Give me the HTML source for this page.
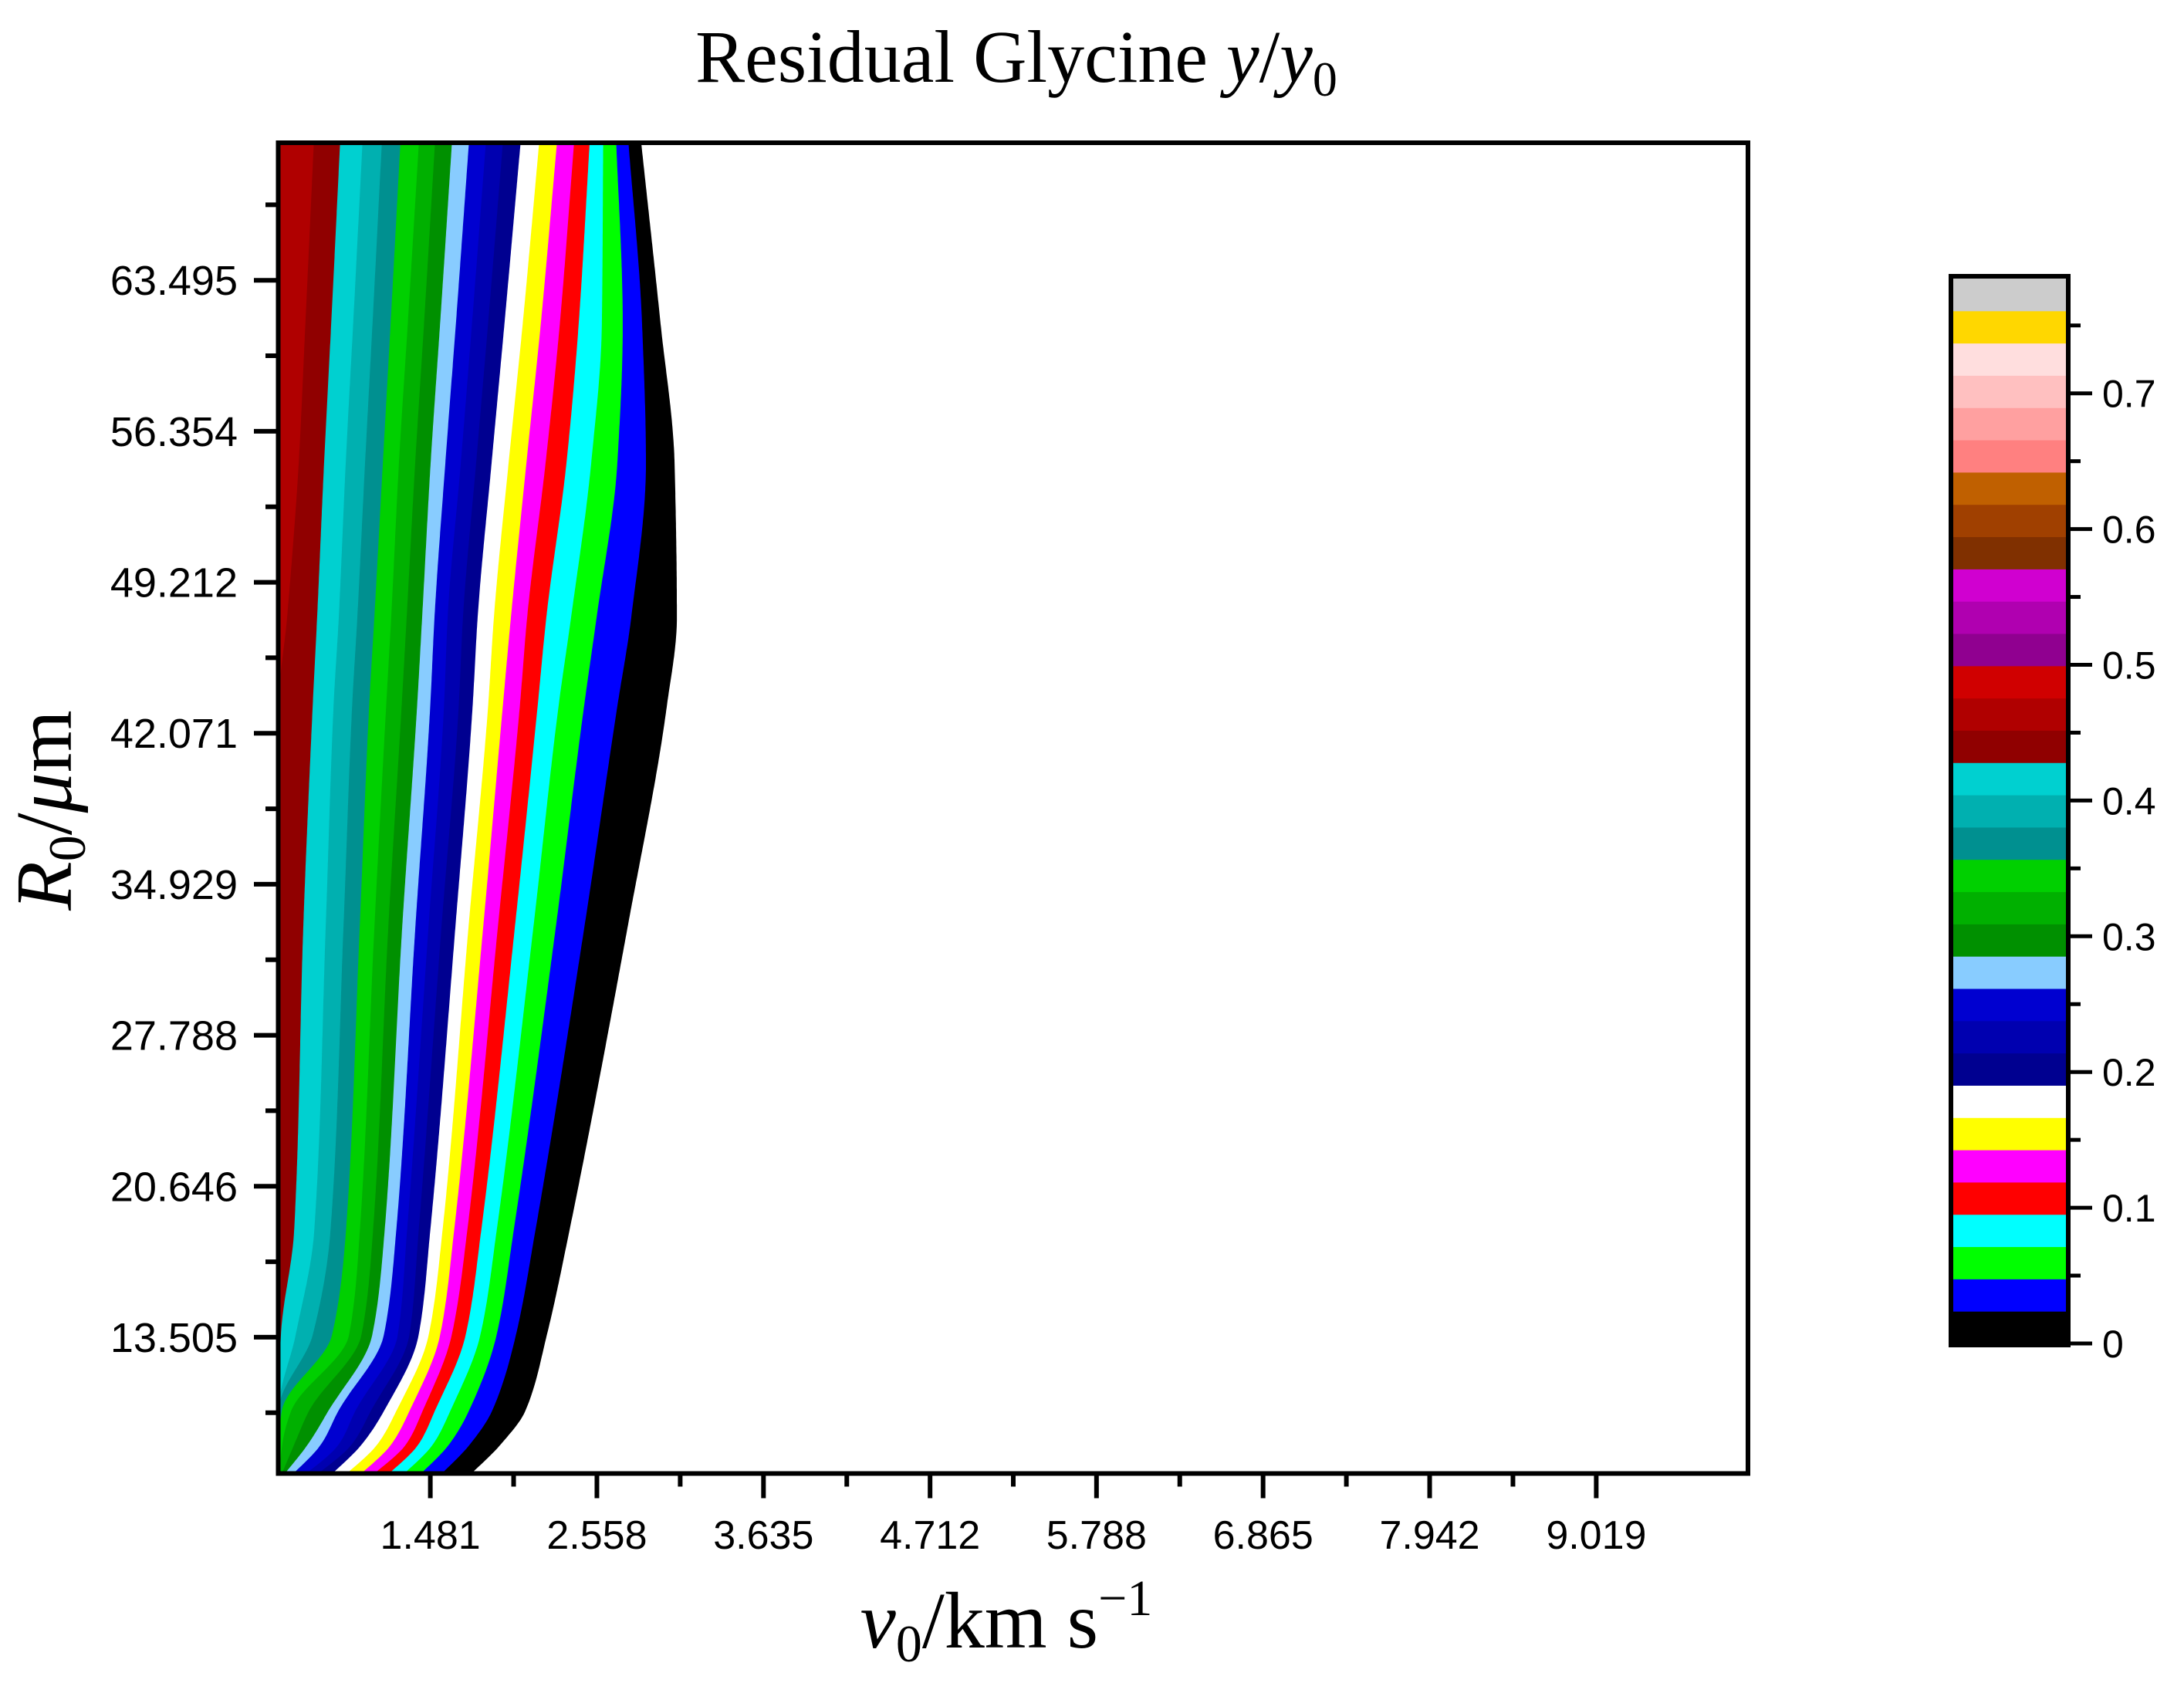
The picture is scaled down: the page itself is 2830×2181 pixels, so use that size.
<!DOCTYPE html>
<html><head><meta charset="utf-8"><style>
html,body{margin:0;padding:0;background:#fff;}
svg{display:block;}
</style></head><body>
<svg id="chart" xmlns="http://www.w3.org/2000/svg" width="2830" height="2181" viewBox="0 0 2830 2181">
<rect x="0" y="0" width="2830" height="2181" fill="#fff"/>
<defs><clipPath id="plotclip"><rect x="361" y="185" width="1904" height="1724.5"/></clipPath></defs>
<g id="contours" clip-path="url(#plotclip)"></g>
<g id="axes"></g>
<g id="cbar"></g>
<text x="1317" y="106" text-anchor="middle" font-family="Liberation Serif, serif" font-size="96">Residual Glycine <tspan font-style="italic">y</tspan>/<tspan font-style="italic">y</tspan><tspan font-size="64" dy="18">0</tspan></text>
<text transform="translate(92,1050) rotate(-90)" text-anchor="middle" font-family="Liberation Serif, serif" font-size="104"><tspan font-style="italic">R</tspan><tspan font-size="68" dy="18">0</tspan><tspan dy="-18">/</tspan><tspan font-style="italic">μ</tspan>m</text>
<text x="1304" y="2135" text-anchor="middle" font-family="Liberation Serif, serif" font-size="104"><tspan font-style="italic">v</tspan><tspan font-size="68" dy="18">0</tspan><tspan dy="-18">/km s</tspan><tspan font-size="66" dy="-42">−1</tspan></text>
</svg>
<script>
// ---- data ----
const rRows = [70, 61.42, 54.85, 47.55, 43.3, 33.0, 18.5, 13.6, 10.0, 8.5, 7.06];
const levels = [0,0.025,0.05,0.075,0.1,0.125,0.15,0.175,0.2,0.225,0.25,0.275,0.3,0.325,0.35,0.375,0.4,0.425,0.45,0.475];
const bandColors = ["#000000","#0000ff","#00ff00","#00ffff","#ff0000","#ff00ff","#ffff00","#ffffff","#000090","#0000b0","#0000d0","#88ccff","#009000","#00b000","#00d000","#009090","#00b0b0","#00d0d0","#900000","#b00000"];
// boundary v0 (km/s) for each level, one array per R0 row
const vAtR70  = [2.839,2.758,2.681,2.599,2.514,2.414,2.304,2.189,2.069,1.954,1.844,1.734,1.624,1.514,1.410,1.290,1.170,1.045,0.900,0.730];
const vAtR61  = [2.970,2.850,2.725,2.590,2.440,2.318,2.195,2.078,1.960,1.854,1.750,1.646,1.544,1.440,1.335,1.224,1.107,0.982,0.840,0.673];
const vAtR55  = [3.060,2.875,2.690,2.521,2.361,2.226,2.102,1.987,1.877,1.777,1.678,1.578,1.483,1.383,1.278,1.174,1.059,0.934,0.794,0.630];
const vAtR47  = [3.075,2.780,2.556,2.391,2.231,2.107,2.002,1.892,1.787,1.692,1.593,1.508,1.428,1.328,1.228,1.119,1.009,0.889,0.749,0.555];
const vAtR43  = [3.009,2.689,2.474,2.309,2.174,2.059,1.949,1.854,1.754,1.664,1.569,1.480,1.395,1.295,1.195,1.085,0.975,0.855,0.720,0.500];
const vAtR33  = [2.759,2.479,2.294,2.149,2.029,1.919,1.824,1.729,1.644,1.554,1.470,1.385,1.300,1.210,1.120,1.025,0.920,0.805,0.660,0.500];
const vAtR18  = [2.379,2.159,2.019,1.909,1.809,1.719,1.634,1.559,1.480,1.405,1.330,1.260,1.185,1.110,1.025,0.935,0.835,0.730,0.600,0.500];
const vAtR13  = [2.234,2.034,1.909,1.804,1.709,1.619,1.544,1.470,1.405,1.345,1.270,1.180,1.105,1.035,0.955,0.845,0.720,0.610,0.515,0.500];
const vAtR10  = [2.094,1.879,1.729,1.609,1.509,1.430,1.345,1.260,1.180,1.095,0.995,0.885,0.820,0.695,0.580,0.520,0.500,0.500,0.500,0.500];
const vAtR8   = [1.944,1.744,1.609,1.504,1.410,1.330,1.235,1.145,1.045,0.980,0.895,0.780,0.695,0.605,0.525,0.500,0.500,0.500,0.500,0.500];
const vAtR7   = [1.694,1.505,1.370,1.260,1.160,1.060,0.980,0.885,0.795,0.695,0.620,0.545,0.500,0.500,0.500,0.500,0.500,0.500,0.500,0.500];
const rowsV = [vAtR70, vAtR61, vAtR55, vAtR47, vAtR43, vAtR33, vAtR18, vAtR13, vAtR10, vAtR8, vAtR7];
const xTicks = [1.481,2.558,3.635,4.712,5.788,6.865,7.942,9.019];
const xMinorTicks = [2.0195,3.0965,4.1735,5.25,6.3265,7.4035,8.4805];
const yTicks = [13.505,20.646,27.788,34.929,42.071,49.212,56.354,63.495];
const yMinorTicks = [9.935,17.076,24.217,31.359,38.5,45.641,52.783,59.925,67.066];
const cbarColors = ["#000000","#0000ff","#00ff00","#00ffff","#ff0000","#ff00ff","#ffff00","#ffffff","#000090","#0000b0","#0000d0","#88ccff","#009000","#00b000","#00d000","#009090","#00b0b0","#00d0d0","#900000","#b00000","#d00000","#900090","#b000b0","#d000d0","#803000","#a04000","#c06000","#ff8080","#ffa0a0","#ffc0c0","#ffdede","#ffd700","#cccccc"];
const cbarTicks = [0,0.1,0.2,0.3,0.4,0.5,0.6,0.7];
const cbarTickLabels = ["0","0.1","0.2","0.3","0.4","0.5","0.6","0.7"];
const cbarMinorTicks = [0.05,0.15,0.25,0.35,0.45,0.55,0.65,0.75];

// ---- scales ----
const PL=361, PR=2265, PT=185, PB=1909.5;
const xMin=0.5, xMax=10.0, yMin=7.06, yMax=70;
function xPx(v){return PL+(v-xMin)*(PR-PL)/(xMax-xMin);}
function yPx(r){return PB-(r-yMin)*(PB-PT)/(yMax-yMin);}
const CB_BOT=1741, CB_PER=1759;
function cbY(v){return CB_BOT-v*CB_PER;}

const NS="http://www.w3.org/2000/svg";
function mk(tag, attrs, parent){const e=document.createElementNS(NS,tag);for(const k in attrs)e.setAttribute(k,attrs[k]);parent.appendChild(e);return e;}

// ---- contours: monotone (Fritsch-Carlson) cubic x(y) ----
const cg=document.getElementById('contours');
function monoPts(ys, xs){
  const n=ys.length, h=[], s=[], m=[];
  for(let i=0;i<n-1;i++){h.push(ys[i+1]-ys[i]); s.push((xs[i+1]-xs[i])/h[i]);}
  m[0]=s[0]; m[n-1]=s[n-2];
  for(let i=1;i<n-1;i++){
    if(s[i-1]*s[i]<=0){m[i]=0;}
    else{const w1=2*h[i]+h[i-1], w2=h[i]+2*h[i-1]; m[i]=(w1+w2)/(w1/s[i-1]+w2/s[i]);}
  }
  const out=[];
  for(let i=0;i<n-1;i++){
    const steps=Math.max(2,Math.ceil(h[i]/4));
    for(let j=0;j<steps;j++){
      const t=j/steps, t2=t*t, t3=t2*t;
      const x=(2*t3-3*t2+1)*xs[i]+(t3-2*t2+t)*h[i]*m[i]+(-2*t3+3*t2)*xs[i+1]+(t3-t2)*h[i]*m[i+1];
      out.push([x, ys[i]+t*h[i]]);
    }
  }
  out.push([xs[n-1], ys[n-1]]);
  return out;
}
for(let k=0;k<levels.length;k++){
  const ys=rRows.map(r=>yPx(r));
  const xs=rRows.map((r,i)=>xPx(rowsV[i][k]));
  ys[0]=PT-10; ys[ys.length-1]=PB+10;
  const pts=monoPts(ys,xs);
  let d="M"+pts.map(p=>Math.max(p[0],PL-20).toFixed(1)+","+p[1].toFixed(1)).join(" L");
  d+=" L"+(PL-20)+","+(PB+10)+" L"+(PL-20)+","+(PT-10)+" Z";
  const p=mk('path',{d:d,fill:bandColors[k],stroke:'none'},cg);
  
  
}

// ---- axes ----
const ag=document.getElementById('axes');
const frame=mk('rect',{x:PL-0.5,y:PT,width:PR-PL+0.5,height:PB-PT,fill:'none',stroke:'#000','stroke-width':6},ag);


xTicks.forEach((t,i)=>{
  const x=xPx(t);
  const l=mk('line',{x1:x,y1:PB,x2:x,y2:PB+32,stroke:'#000','stroke-width':6},ag);
  
  
  const tx=mk('text',{x:x,y:2007,'text-anchor':'middle','font-family':'Liberation Sans, sans-serif','font-size':52},ag);
  tx.textContent=t.toFixed(3);
  
  
});
xMinorTicks.forEach(t=>{
  const x=xPx(t);
  const l=mk('line',{x1:x,y1:PB,x2:x,y2:PB+17,stroke:'#000','stroke-width':6},ag);
  
  
});
yTicks.forEach(t=>{
  const y=yPx(t);
  const l=mk('line',{x1:PL-32,y1:y,x2:PL,y2:y,stroke:'#000','stroke-width':6},ag);
  
  
  const tx=mk('text',{x:308,y:y+19,'text-anchor':'end','font-family':'Liberation Sans, sans-serif','font-size':54},ag);
  tx.textContent=t.toFixed(3);
  
  
});
yMinorTicks.forEach(t=>{
  const y=yPx(t);
  const l=mk('line',{x1:PL-17,y1:y,x2:PL,y2:y,stroke:'#000','stroke-width':6},ag);
  
  
});

// ---- colorbar ----
const bg=document.getElementById('cbar');
const CBL=2528, CBR=2680, bandH=1380/cbarColors.length;
cbarColors.forEach((c,i)=>{
  const r=mk('rect',{x:CBL,y:CB_BOT-(i+1)*bandH,width:CBR-CBL,height:bandH+0.5,fill:c},bg);
  
  
});
const cbf=mk('rect',{x:CBL,y:358,width:CBR-CBL,height:1385,fill:'none',stroke:'#000','stroke-width':6},bg);


cbarTicks.forEach((t,i)=>{
  const y=cbY(t);
  const l=mk('line',{x1:CBR,y1:y,x2:CBR+31,y2:y,stroke:'#000','stroke-width':5},bg);
  
  
  const tx=mk('text',{x:2724,y:y+18,'font-family':'Liberation Sans, sans-serif','font-size':50},bg);
  tx.textContent=cbarTickLabels[i];
  
  
});
cbarMinorTicks.forEach(t=>{
  const y=cbY(t);
  const l=mk('line',{x1:CBR,y1:y,x2:CBR+16,y2:y,stroke:'#000','stroke-width':5},bg);
  
  
});
</script>
</body></html>
